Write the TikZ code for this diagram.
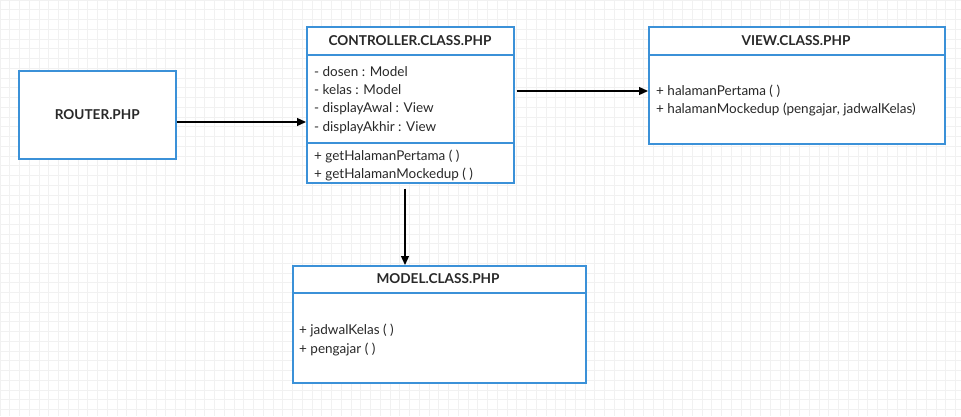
\documentclass[tikz,border=0pt]{standalone}
\usepackage{fontspec}
\setmainfont{Lato}
\usetikzlibrary{arrows.meta, positioning}
\definecolor{boxblue}{RGB}{59,145,216}
\definecolor{gridgray}{RGB}{241,241,241}
\definecolor{textgray}{RGB}{40,40,40}

\begin{document}
\begin{tikzpicture}[x=1pt, y=-1pt,
  classbox/.style={draw=boxblue, line width=1.6pt, fill=white, inner sep=0pt, anchor=north west},
  member/.style={anchor=west, inner sep=0pt, text=textgray, font=\fontsize{13.5}{15}\selectfont},
  classtitle/.style={inner sep=0pt, text=textgray, font=\bfseries\fontsize{13.6}{15}\selectfont},
  divider/.style={draw=boxblue, line width=1.6pt},
  link/.style={-{Triangle[length=9pt, width=8pt]}, line width=1.3pt}]
  \useasboundingbox (0,0) rectangle (961,416);

  % background grid
  \foreach \gx in {0,9.75,...,961} \draw[gridgray, line width=0.6pt] (\gx,0) -- (\gx,416);
  \foreach \gy in {0,9.75,...,416} \draw[gridgray, line width=0.6pt] (0,\gy) -- (961,\gy);

  % Router
  \node[classbox, minimum width=157pt, minimum height=88pt] (router) at (18,70) {};
  \node[classtitle] (routerTitle) at (router.center) {ROUTER.PHP};

  % Controller class
  \node[classbox, minimum width=207pt, minimum height=156pt] (ctrl) at (306,26) {};
  \node[classtitle] (ctrlTitle) at (410,41) {CONTROLLER.CLASS.PHP};
  \draw[divider] ([yshift=-29pt]ctrl.north west) -- ([yshift=-29pt]ctrl.north east);
  \draw[divider] ([yshift=-117pt]ctrl.north west) -- ([yshift=-117pt]ctrl.north east);
  \node[member] (dosen) at (314,72) {- dosen : Model};
  \node[member] (kelas) at (314,90) {- kelas : Model};
  \node[member] (awal) at (314,109) {- displayAwal : View};
  \node[member] (akhir) at (314,128) {- displayAkhir : View};
  \node[member] (getPertama) at (314,156) {+ getHalamanPertama ( )};
  \node[member] (getMockedup) at (314,174) {+ getHalamanMockedup ( )};

  % View class
  \node[classbox, minimum width=296pt, minimum height=117pt] (view) at (648,26) {};
  \node[classtitle] (viewTitle) at (796,41) {VIEW.CLASS.PHP};
  \draw[divider] ([yshift=-29pt]view.north west) -- ([yshift=-29pt]view.north east);
  \node[member] (pertama) at (656,91) {+ halamanPertama ( )};
  \node[member] (mockedup) at (656,109) {+ halamanMockedup (pengajar, jadwalKelas)};

  % Model class
  \node[classbox, minimum width=293pt, minimum height=117pt] (model) at (292,265) {};
  \node[classtitle] (modelTitle) at (438,279) {MODEL.CLASS.PHP};
  \draw[divider] ([yshift=-28pt]model.north west) -- ([yshift=-28pt]model.north east);
  \node[member] (jadwal) at (299,330) {+ jadwalKelas ( )};
  \node[member] (pengajar) at (299,349) {+ pengajar ( )};

  % connectors
  \coordinate (ctrlRight) at ([xshift=2pt]ctrl.east |- pertama);
  \coordinate (ctrlBottom) at ([yshift=-5pt]ctrl.south -| 405,0);
  \draw[link] (router.east |- 0,122) -- (ctrl.west |- 0,122);
  \draw[link] (ctrlRight) -- (view.west |- ctrlRight);
  \draw[link] (ctrlBottom) -- (model.north -| ctrlBottom);
\end{tikzpicture}
\end{document}
